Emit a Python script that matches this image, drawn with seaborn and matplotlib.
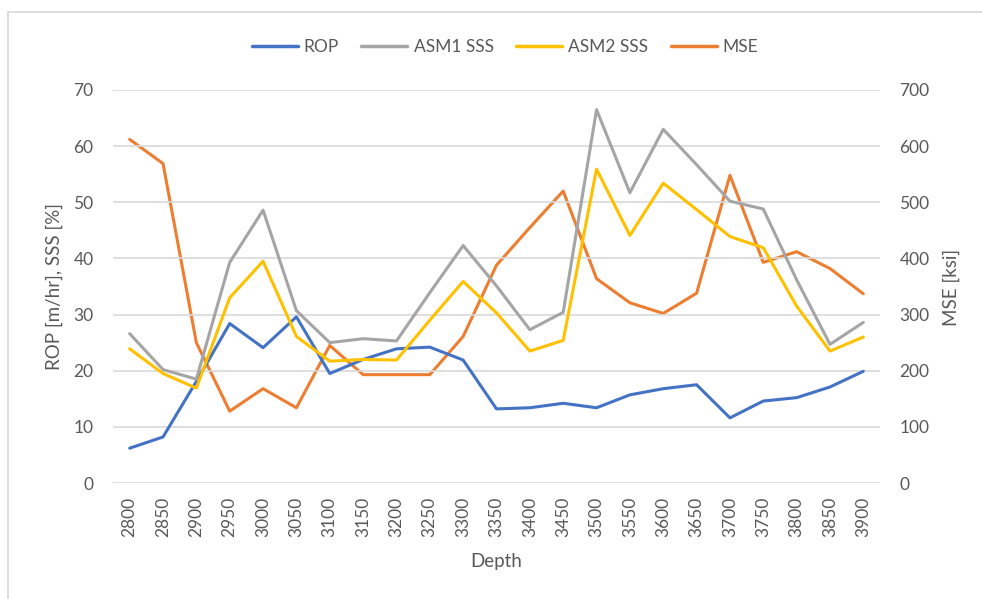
import matplotlib
matplotlib.use("Agg")
import matplotlib.pyplot as plt
import seaborn as sns
import pandas as pd
from matplotlib.lines import Line2D

depth = [2800, 2850, 2900, 2950, 3000, 3050, 3100, 3150, 3200, 3250, 3300, 3350,
         3400, 3450, 3500, 3550, 3600, 3650, 3700, 3750, 3800, 3850, 3900]
rop = [6.2, 8.2, 18.1, 28.4, 24.1, 29.6, 19.5, 22.0, 23.9, 24.2, 21.9, 13.2,
       13.4, 14.2, 13.4, 15.7, 16.8, 17.5, 11.6, 14.6, 15.2, 17.1, 19.9]
asm1 = [26.6, 20.2, 18.5, 39.3, 48.6, 30.7, 25.0, 25.7, 25.3, 33.9, 42.3, 35.1,
        27.3, 30.4, 66.5, 51.7, 63.0, 56.7, 50.2, 48.8, 36.2, 24.7, 28.6]
asm2 = [23.9, 19.5, 16.9, 33.0, 39.5, 26.1, 21.7, 22.0, 21.9, 29.0, 35.9, 30.3,
        23.5, 25.4, 55.9, 44.1, 53.4, 48.7, 43.9, 41.9, 31.5, 23.5, 26.0]
mse = [612, 569, 250, 128, 168, 134, 245, 193, 193, 193, 261, 388,
       455, 520, 364, 321, 302, 338, 548, 393, 412, 382, 337]

labels = ["ROP", "ASM1 SSS", "ASM2 SSS", "MSE"]
colors = ["#4472C4", "#A5A5A5", "#FFC000", "#ED7D31"]

sns.set_theme(style="white")
plt.rcParams["font.family"] = ["Lato", "DejaVu Sans"]

df = pd.DataFrame({"Depth": depth, "ROP": rop, "ASM1 SSS": asm1, "ASM2 SSS": asm2, "MSE": mse})

fig = plt.figure(figsize=(9.82, 5.99), dpi=100)
L, R, T, B = 113, 880, 90, 483
ax = fig.add_axes([L/982, 1 - B/599, (R - L)/982, (B - T)/599])
ax2 = ax.twinx()

lw = 2.2
for name, c in zip(labels[:3], colors[:3]):
    sns.lineplot(data=df, x="Depth", y=name, ax=ax, color=c, linewidth=lw, zorder=3)
sns.lineplot(data=df, x="Depth", y="MSE", ax=ax2, color=colors[3], linewidth=lw, zorder=3)

tc = "#595959"
ax.set_xlim(depth[0] - 25, depth[-1] + 25)
ax.set_ylim(0, 70)
ax2.set_ylim(0, 700)
ax.set_yticks(range(0, 71, 10))
ax2.set_yticks(range(0, 701, 100))
ax.set_xticks(depth)
ax.set_xticklabels([str(d) for d in depth], rotation=90)
ax.grid(axis="y", color="#D9D9D9", linewidth=1.2)
ax.grid(axis="x", visible=False)
ax2.grid(False)
for a in (ax, ax2):
    for s in a.spines.values():
        s.set_visible(False)
    a.tick_params(axis="both", length=0, labelsize=12.5, labelcolor=tc)
ax.tick_params(axis="y", pad=14)
ax2.tick_params(axis="y", pad=14)
ax.tick_params(axis="x", pad=10)

lfs = 13.5
ax.set_xlabel("Depth", fontsize=lfs, color=tc)
ax.set_ylabel("ROP [m/hr], SSS [%]", fontsize=lfs, color=tc)
ax2.set_ylabel("MSE [ksi]", fontsize=lfs, color=tc)
W, H = R - L, B - T
ax.xaxis.set_label_coords(0.5, (B - 562) / H)
ax.xaxis.label.set_va("center")
ax.yaxis.set_label_coords((54 - L) / W, 0.5 + (B - T) / 2 / H - (287 - T) / H)
ax.yaxis.label.set_va("center")
ax2.yaxis.set_label_coords((951 - L) / W, 0.5 + (B - T) / 2 / H - (287 - T) / H)
ax2.yaxis.label.set_va("center")

ax.set_zorder(ax2.get_zorder() + 1)
ax.patch.set_visible(False)

handles = [Line2D([0], [0], color=c, linewidth=2.5) for c in colors]
fig.legend(handles, labels, loc="center", bbox_to_anchor=(505/982, 1 - 47/599), ncol=4,
           frameon=False, fontsize=12.5, handlelength=2.65, columnspacing=1.3,
           handletextpad=0.35, labelcolor=tc)

# chart border (top and left visible)
fig.add_artist(Line2D([8/982, 8/982], [0, 1 - 12/599], color="#D9D9D9", linewidth=1.2, transform=fig.transFigure))
fig.add_artist(Line2D([8/982, 1], [1 - 12/599, 1 - 12/599], color="#D9D9D9", linewidth=1.2, transform=fig.transFigure))

fig.savefig("out.png", dpi=100)
